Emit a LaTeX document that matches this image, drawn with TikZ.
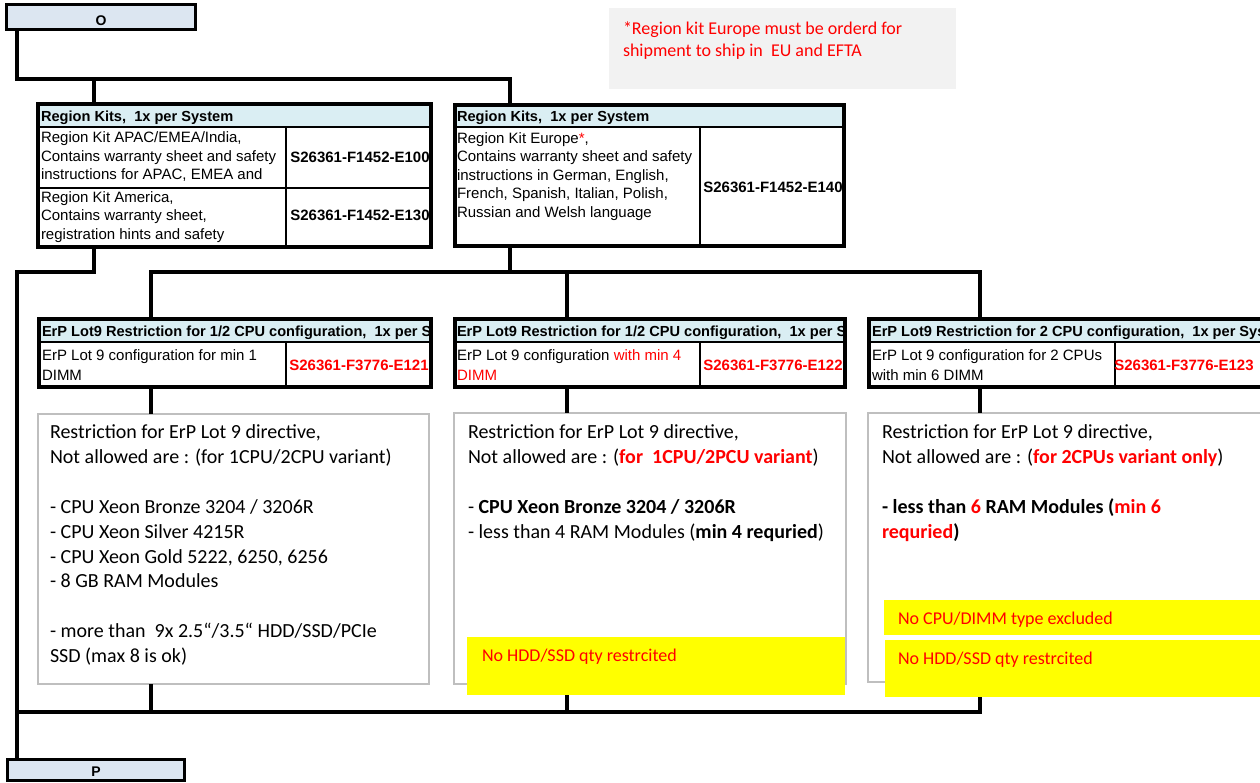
\documentclass[tikz,border=0pt]{standalone}
\usepackage{fontspec}
\setmainfont{Liberation Sans}
\newfontfamily\calibri{Carlito}
\definecolor{hdrblue}{HTML}{DAEEF3}
\definecolor{boxblue}{HTML}{DCE6F1}
\definecolor{notegray}{HTML}{F2F2F2}
\definecolor{bordergray}{HTML}{BFBFBF}
\definecolor{xred}{HTML}{FF0000}
\definecolor{xyellow}{HTML}{FFFF00}
\tikzset{
 conn/.style={line width=4.5pt},
 hsep/.style={line width=2.8pt},
 cdiv/.style={line width=2pt},
 tbl/.style={draw, line width=3.5pt, inner sep=0pt, outer sep=0pt, anchor=north west,
   path picture={\fill[hdrblue] (path picture bounding box.north west) rectangle ([yshift=-23pt]path picture bounding box.north east);}},
 keybox/.style={draw, line width=2.5pt, fill=boxblue, inner sep=0pt, outer sep=0pt, anchor=north west},
 keytxt/.style={font=\fontsize{14}{16}\selectfont\bfseries, inner sep=0pt, outer sep=0pt, anchor=base},
 gbox/.style={draw=bordergray, line width=2.5pt, fill=white, inner sep=0pt, outer sep=0pt, anchor=north west},
 ybox/.style={fill=xyellow, inner sep=0pt, outer sep=0pt, anchor=north west},
 notebox/.style={fill=notegray, inner sep=0pt, outer sep=0pt, anchor=north west},
 atxt/.style={font=\fontsize{15}{18.5}\selectfont, inner sep=0pt, outer sep=0pt, anchor=base west, align=left},
 etxt/.style={font=\fontsize{15}{20}\selectfont, inner sep=0pt, outer sep=0pt, anchor=base west, align=left},
 hdr/.style={font=\fontsize{14.6}{18}\selectfont\bfseries, inner sep=0pt, outer sep=0pt, anchor=base west},
 pn/.style={font=\fontsize{15}{18}\selectfont\bfseries, inner sep=0pt, outer sep=0pt, anchor=base},
 ctxt/.style={font=\calibri\fontsize{20}{24.85}\selectfont, inner sep=0pt, outer sep=0pt, anchor=base west, align=left},
 stxt/.style={font=\calibri\fontsize{18}{22}\selectfont, text=xred, inner sep=0pt, outer sep=0pt, anchor=base west, align=left},
}
\begin{document}
\begin{tikzpicture}[x=1pt,y=-1pt]
\path[use as bounding box] (0,0) rectangle (1260,782);
\clip (0,0) rectangle (1260,782);

% note box (multi-line nodes are placed by the baseline of their last line)
\node[notebox, minimum width=347pt, minimum height=81pt] (note) at (609,8) {};
\node[stxt] (notet) at (623,56) {*Region kit Europe must be orderd for\\shipment to ship in\ \ EU and EFTA};

% key boxes
\node[keybox, minimum width=189pt, minimum height=25pt] (O) at (6.5,4.5) {};
\node[keytxt] (Ot) at (101,25) {O};
\node[keybox, minimum width=177pt, minimum height=21pt] (P) at (7.5,759.5) {};
\node[keytxt] (Pt) at (96,776) {P};

% tables
\node[tbl, minimum width=393pt, minimum height=143pt] (rk1) at (38,104) {};
\node[tbl, minimum width=389pt, minimum height=141pt] (rk2) at (455,105) {};
\node[tbl, minimum width=392pt, minimum height=68pt] (erp1) at (39,319) {};
\node[tbl, minimum width=390pt, minimum height=68pt] (erp2) at (455,319) {};
\node[tbl, minimum width=420pt, minimum height=68pt] (erp3) at (869,319) {};

% table inner lines
\draw[hsep] (rk1.west |- 0,127) -- (rk1.east |- 0,127);
\draw[hsep] (rk1.west |- 0,188) -- (rk1.east |- 0,188);
\draw[cdiv] (286,127) -- (rk1.south -| 286,0);
\draw[hsep] (rk2.west |- 0,127) -- (rk2.east |- 0,127);
\draw[cdiv] (700,127) -- (rk2.south -| 700,0);
\draw[hsep] (erp1.west |- 0,342) -- (erp1.east |- 0,342);
\draw[cdiv] (286,342) -- (erp1.south -| 286,0);
\draw[hsep] (erp2.west |- 0,342) -- (erp2.east |- 0,342);
\draw[cdiv] (700,342) -- (erp2.south -| 700,0);
\draw[hsep] (erp3.west |- 0,342) -- (erp3.east |- 0,342);
\draw[cdiv] (1115,342) -- (erp3.south -| 1115,0);

% headers (clipped to their tables)
\begin{scope}\clip (rk1.north west) rectangle (rk1.south east);
\node[hdr] (h1) at (41,121) {Region Kits,\ \ 1x per System};\end{scope}
\begin{scope}\clip (rk2.north west) rectangle (rk2.south east);
\node[hdr] (h2) at (457,121) {Region Kits,\ \ 1x per System};\end{scope}
\begin{scope}\clip (erp1.north west) rectangle (erp1.south east);
\node[hdr] (h3) at (42,336) {ErP Lot9 Restriction for 1/2 CPU configuration,\ \ 1x per System};\end{scope}
\begin{scope}\clip (erp2.north west) rectangle (erp2.south east);
\node[hdr] (h4) at (457,336) {ErP Lot9 Restriction for 1/2 CPU configuration,\ \ 1x per System};\end{scope}
\begin{scope}\clip (erp3.north west) rectangle (erp3.south east);
\node[hdr] (h5) at (872,336) {ErP Lot9 Restriction for 2 CPU configuration,\ \ 1x per System};\end{scope}

% redraw table borders over header text
\foreach \t in {rk1,rk2,erp1,erp2,erp3}{\draw[line width=3.5pt] (\t.north west) rectangle (\t.south east);}

% table texts
\node[atxt] (r1a) at (41,179.5) {Region Kit APAC/EMEA/India,\\Contains warranty sheet and safety\\instructions for APAC, EMEA and};
\node[atxt] (r1b) at (41,239) {Region Kit America,\\Contains warranty sheet,\\registration hints and safety};
\node[pn] (p1) at (360,162) {S26361-F1452-E100};
\node[pn] (p2) at (360,220) {S26361-F1452-E130};
\node[atxt] (r2) at (457,217) {Region Kit Europe\textcolor{xred}{*},\\Contains warranty sheet and safety\\instructions in German, English,\\French, Spanish, Italian, Polish,\\Russian and Welsh language};
\node[pn] (p3) at (773,192) {S26361-F1452-E140};
\node[etxt] (e1) at (42,380) {ErP Lot 9 configuration for min 1\\DIMM};
\node[etxt] (e2) at (457,380) {ErP Lot 9 configuration \textcolor{xred}{with min 4}\\\textcolor{xred}{DIMM}};
\node[etxt] (e3) at (872,380) {ErP Lot 9 configuration for 2 CPUs\\with min 6 DIMM};
\node[pn, text=xred] (p4) at (359,370) {S26361-F3776-E121};
\node[pn, text=xred] (p5) at (773,370) {S26361-F3776-E122};
\node[pn, text=xred] (p6) at (1184,370) {S26361-F3776-E123};

% grey restriction boxes
\node[gbox, minimum width=391pt, minimum height=270pt] (g1) at (38,414) {};
\node[gbox, minimum width=392pt, minimum height=271pt] (g2) at (454,413) {};
\node[gbox, minimum width=420pt, minimum height=269pt] (g3) at (868,413) {};
\node[ctxt] (g1t) at (50,662.5) {Restriction for ErP Lot 9 directive,\\Not allowed are : (for 1CPU/2CPU variant)\\~\\- CPU Xeon Bronze 3204 / 3206R\\- CPU Xeon Silver 4215R\\- CPU Xeon Gold 5222, 6250, 6256\\- 8 GB RAM Modules\\~\\- more than\ \ 9x 2.5“/3.5“ HDD/SSD/PCIe\\SSD (max 8 is ok)};
\node[ctxt] (g2t) at (468,538.2) {Restriction for ErP Lot 9 directive,\\Not allowed are : (\textcolor{xred}{\textbf{for\ \ 1CPU/2PCU variant}})\\~\\- \textbf{CPU Xeon Bronze 3204 / 3206R}\\- less than 4 RAM Modules (\textbf{min 4 requried})};
\node[ctxt] (g3t) at (882,538.2) {Restriction for ErP Lot 9 directive,\\Not allowed are : (\textcolor{xred}{\textbf{for 2CPUs variant only}})\\~\\\textbf{- less than \textcolor{xred}{6} RAM Modules (\textcolor{xred}{min 6}}\\\textbf{\textcolor{xred}{requried})}};

% yellow boxes
\node[ybox, minimum width=378pt, minimum height=58pt] (y1) at (467,637) {};
\node[ybox, minimum width=400pt, minimum height=35pt] (y2) at (884,600) {};
\node[ybox, minimum width=400pt, minimum height=57pt] (y3) at (885,640) {};
\node[stxt] (y1t) at (482,661) {No HDD/SSD qty restrcited};
\node[stxt] (y2t) at (898,624) {No CPU/DIMM type excluded};
\node[stxt] (y3t) at (898,664) {No HDD/SSD qty restrcited};

% junctions
\coordinate (jO) at (17,79);
\coordinate (jR1) at (94,79);
\coordinate (jEU) at (510,79);
\coordinate (jL1) at (94,272);
\coordinate (jL2) at (17,272);
\coordinate (jM) at (510,272);
\coordinate (jA) at (151,272);
\coordinate (jB) at (567,272);
\coordinate (jC) at (980,272);
\coordinate (jA2) at (151,712);
\coordinate (jB2) at (567,712);
\coordinate (jC2) at (980,712);
\coordinate (jL3) at (17,712);

% connectors
\draw[conn] (O.south -| jO) -- (jO) -- (jEU) -- (rk2.north -| jEU);
\draw[conn] (jR1) -- (rk1.north -| jR1);
\draw[conn] (rk1.south -| jL1) -- (jL1) -- (jL2) -- (P.north -| jL2);
\draw[conn] (rk2.south -| jM) -- (jM);
\draw[conn] (erp1.north -| jA) -- (jA) -- (jC) -- (erp3.north -| jC);
\draw[conn] (jB) -- (erp2.north -| jB);
\draw[conn] (erp1.south -| jA) -- (g1.north -| jA);
\draw[conn] (erp2.south -| jB) -- (g2.north -| jB);
\draw[conn] (erp3.south -| jC) -- (g3.north -| jC);
\draw[conn] (g1.south -| jA2) -- (jA2);
\draw[conn] (y1.south -| jB2) -- (jB2);
\draw[conn] (y3.south -| jC2) -- (jC2) -- (jL3);
\end{tikzpicture}
\end{document}
